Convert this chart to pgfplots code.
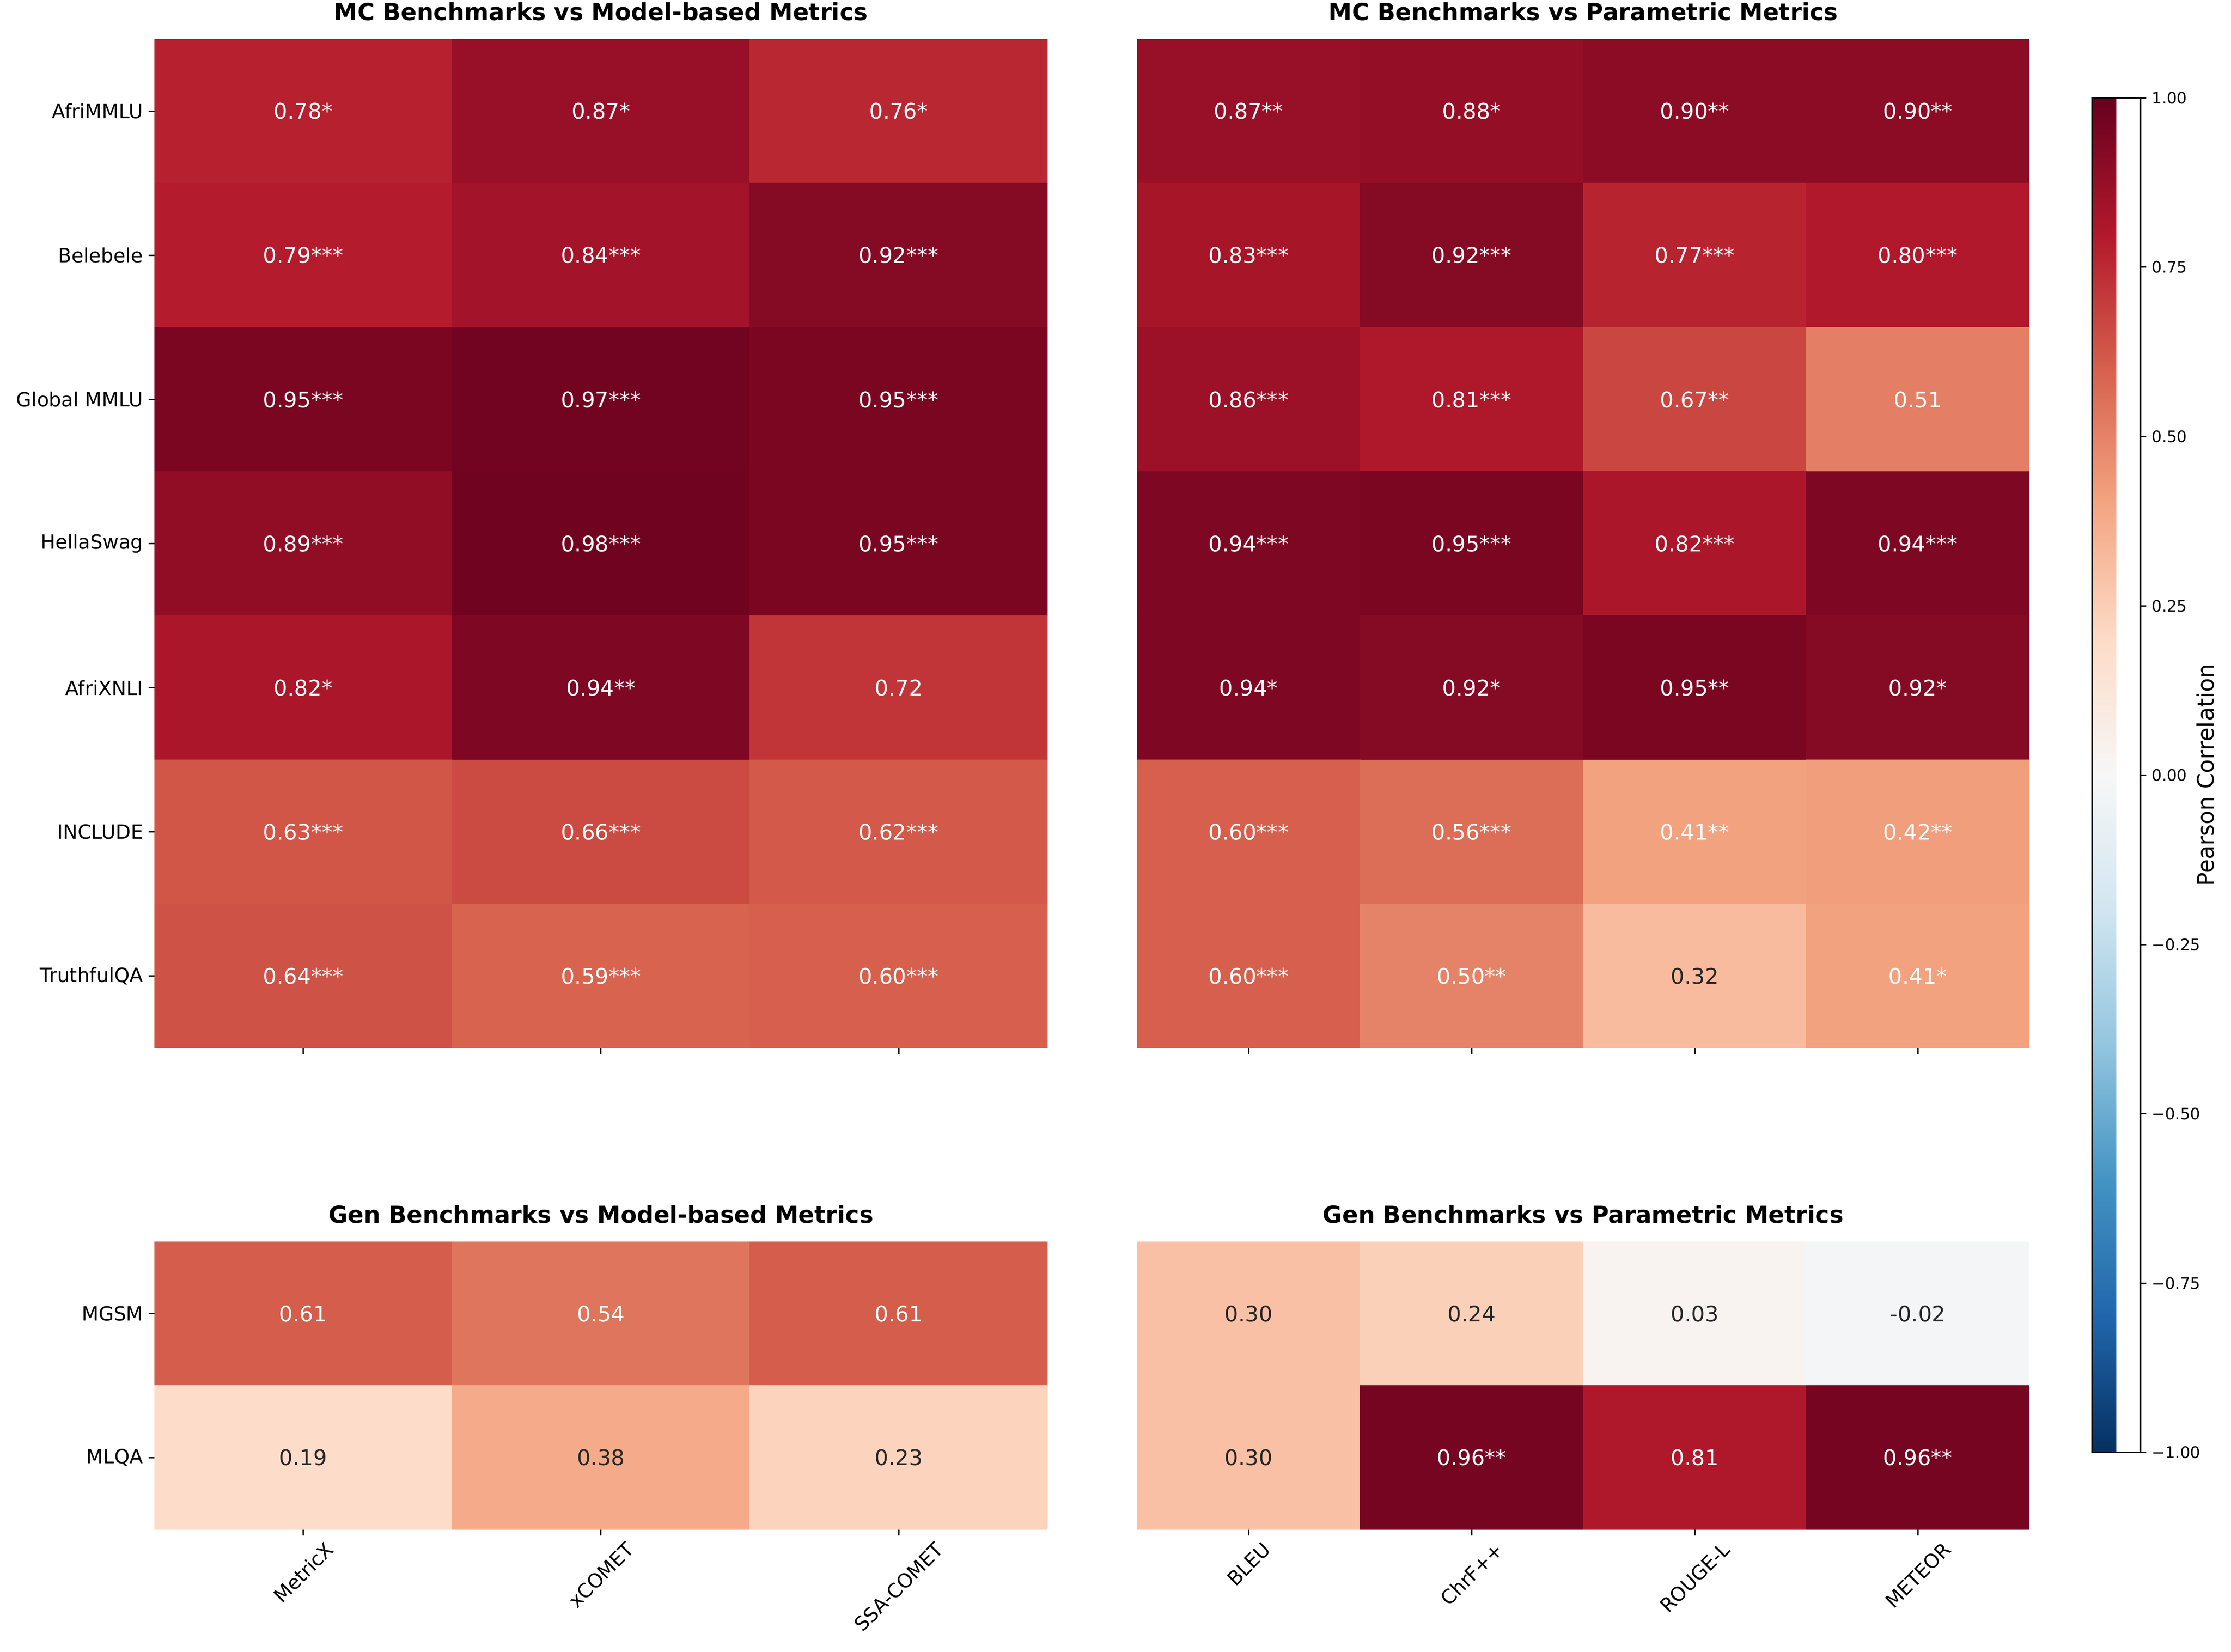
\documentclass[border=0pt]{standalone}
\usepackage{fontspec}
\setmainfont{DejaVu Sans}
\usepackage{graphicx}
\usepackage{pgfplots}
\pgfplotsset{compat=1.18}

\definecolor{darktxt}{HTML}{262626}

\pgfplotsset{
  colormap={rdbur}{HTML=(053061) HTML=(2166AC) HTML=(4393C3) HTML=(92C5DE) HTML=(D1E5F0) HTML=(F7F7F7) HTML=(FDDBC7) HTML=(F4A582) HTML=(D6604D) HTML=(B2182B) HTML=(67001F)},
  hm/.style={
    scale only axis,
    anchor=south west,
    point meta min=-1, point meta max=1,
    colormap name=rdbur,
    axis line style={draw=none},
    tick align=outside,
    major tick length=3.5pt,
    tick style={black, line width=0.8pt},
    xtick pos=left, ytick pos=left,
    minor tick num=0,
    y dir=reverse,
    xmin=-0.5,
    enlargelimits=false,
    xticklabel style={font=\fontsize{11.65}{13}\selectfont, anchor=north, inner sep=3pt},
    yticklabel style={font=\fontsize{11.65}{13}\selectfont, anchor=east, inner sep=3pt},
    title style={font=\bfseries\fontsize{14}{16}\selectfont, at={(0.5,1)}, anchor=base, yshift=5.2pt},
  },
  wlab/.style={only marks, mark=none, nodes near coords, point meta=explicit symbolic,
    nodes near coords align=center,
    every node near coord/.append style={white, anchor=center, inner sep=0pt, font=\fontsize{12.8}{14}\selectfont}},
  dlab/.style={wlab, every node near coord/.append style={darktxt}},
}

\begin{document}
\begin{tikzpicture}
\useasboundingbox (0,0) rectangle (1327.92pt,983.28pt);

% ---------- Top left ----------
\begin{axis}[hm, at={(91.9pt,359.3pt)}, width=531.6pt, height=600.7pt,
  xmax=2.5, ymin=-0.5, ymax=6.5,
  xtick={0,1,2}, xticklabels={},
  ytick={0,1,2,3,4,5,6},
  yticklabels={AfriMMLU,Belebele,Global MMLU,HellaSwag,AfriXNLI,INCLUDE,TruthfulQA},
  title={MC Benchmarks vs Model-based Metrics}]
\addplot[matrix plot*, mesh/cols=3, point meta=explicit] table[meta=v]{
x y v
0 0 0.78
1 0 0.87
2 0 0.76
0 1 0.79
1 1 0.84
2 1 0.92
0 2 0.95
1 2 0.97
2 2 0.95
0 3 0.89
1 3 0.98
2 3 0.95
0 4 0.82
1 4 0.94
2 4 0.72
0 5 0.63
1 5 0.66
2 5 0.62
0 6 0.64
1 6 0.59
2 6 0.60
};
\addplot[wlab] coordinates {
(0,0)[0.78*] (1,0)[0.87*] (2,0)[0.76*]
(0,1)[0.79***] (1,1)[0.84***] (2,1)[0.92***]
(0,2)[0.95***] (1,2)[0.97***] (2,2)[0.95***]
(0,3)[0.89***] (1,3)[0.98***] (2,3)[0.95***]
(0,4)[0.82*] (1,4)[0.94**] (2,4)[0.72]
(0,5)[0.63***] (1,5)[0.66***] (2,5)[0.62***]
(0,6)[0.64***] (1,6)[0.59***] (2,6)[0.60***]
};
\end{axis}

% ---------- Top right ----------
\begin{axis}[hm, at={(676.8pt,359.3pt)}, width=531.1pt, height=600.7pt,
  xmax=3.5, ymin=-0.5, ymax=6.5,
  xtick={0,1,2,3}, xticklabels={},
  ytick=\empty,
  title={MC Benchmarks vs Parametric Metrics},
  colorbar,
  colorbar style={
    at={(parent axis.north east)}, anchor=north west,
    xshift=28.8pt, yshift=-35pt,
    scale only axis, width=28.8pt, height=806.4pt,
    font=\fontsize{9.45}{11}\selectfont,
    axis line style={draw=black, line width=0.8pt},
    ytick={-1,-0.75,-0.5,-0.25,0,0.25,0.5,0.75,1},
    yticklabels={−1.00,−0.75,−0.50,−0.25,0.00,0.25,0.50,0.75,1.00},
    every tick label/.append style={font=\fontsize{9.45}{11}\selectfont},
    yticklabel style={font=\fontsize{9.45}{11}\selectfont, anchor=west, inner sep=3pt},
    ytick pos=right, yticklabel pos=right,
    tick align=outside, major tick length=3.5pt,
    tick style={black, line width=0.8pt},
  }]
\addplot[matrix plot*, mesh/cols=4, point meta=explicit] table[meta=v]{
x y v
0 0 0.87
1 0 0.88
2 0 0.90
3 0 0.90
0 1 0.83
1 1 0.92
2 1 0.77
3 1 0.80
0 2 0.86
1 2 0.81
2 2 0.67
3 2 0.51
0 3 0.94
1 3 0.95
2 3 0.82
3 3 0.94
0 4 0.94
1 4 0.92
2 4 0.95
3 4 0.92
0 5 0.60
1 5 0.56
2 5 0.41
3 5 0.42
0 6 0.60
1 6 0.50
2 6 0.32
3 6 0.41
};
\addplot[wlab] coordinates {
(0,0)[0.87**] (1,0)[0.88*] (2,0)[0.90**] (3,0)[0.90**]
(0,1)[0.83***] (1,1)[0.92***] (2,1)[0.77***] (3,1)[0.80***]
(0,2)[0.86***] (1,2)[0.81***] (2,2)[0.67**] (3,2)[0.51]
(0,3)[0.94***] (1,3)[0.95***] (2,3)[0.82***] (3,3)[0.94***]
(0,4)[0.94*] (1,4)[0.92*] (2,4)[0.95**] (3,4)[0.92*]
(0,5)[0.60***] (1,5)[0.56***] (2,5)[0.41**] (3,5)[0.42**]
(0,6)[0.60***] (1,6)[0.50**] (3,6)[0.41*]
};
\addplot[dlab] coordinates {(2,6)[0.32]};
\end{axis}

% ---------- Bottom left ----------
\begin{axis}[hm, at={(91.9pt,72.7pt)}, width=531.6pt, height=171.4pt,
  xmax=2.5, ymin=-0.5, ymax=1.5,
  xtick={0,1,2},
  xticklabels={\rotatebox{45}{MetricX},\rotatebox{45}{xCOMET},\rotatebox{45}{SSA-COMET}},
  ytick={0,1}, yticklabels={MGSM,MLQA},
  title={Gen Benchmarks vs Model-based Metrics}]
\addplot[matrix plot*, mesh/cols=3, point meta=explicit] table[meta=v]{
x y v
0 0 0.61
1 0 0.54
2 0 0.61
0 1 0.19
1 1 0.38
2 1 0.23
};
\addplot[wlab] coordinates {(0,0)[0.61] (1,0)[0.54] (2,0)[0.61]};
\addplot[dlab] coordinates {(0,1)[0.19] (1,1)[0.38] (2,1)[0.23]};
\end{axis}

% ---------- Bottom right ----------
\begin{axis}[hm, at={(676.8pt,72.7pt)}, width=531.1pt, height=171.4pt,
  xmax=3.5, ymin=-0.5, ymax=1.5,
  xtick={0,1,2,3},
  xticklabels={\rotatebox{45}{BLEU},\rotatebox{45}{ChrF++},\rotatebox{45}{ROUGE-L},\rotatebox{45}{METEOR}},
  ytick=\empty,
  title={Gen Benchmarks vs Parametric Metrics}]
\addplot[matrix plot*, mesh/cols=4, point meta=explicit] table[meta=v]{
x y v
0 0 0.30
1 0 0.24
2 0 0.03
3 0 -0.02
0 1 0.30
1 1 0.96
2 1 0.81
3 1 0.96
};
\addplot[dlab] coordinates {(0,0)[0.30] (1,0)[0.24] (2,0)[0.03] (3,0)[-0.02] (0,1)[0.30]};
\addplot[wlab] coordinates {(1,1)[0.96**] (2,1)[0.81] (3,1)[0.96**]};
\end{axis}

\node[rotate=90, font=\fontsize{13.5}{15}\selectfont] at (1312.6pt,521.8pt) {Pearson Correlation};
\end{tikzpicture}
\end{document}
